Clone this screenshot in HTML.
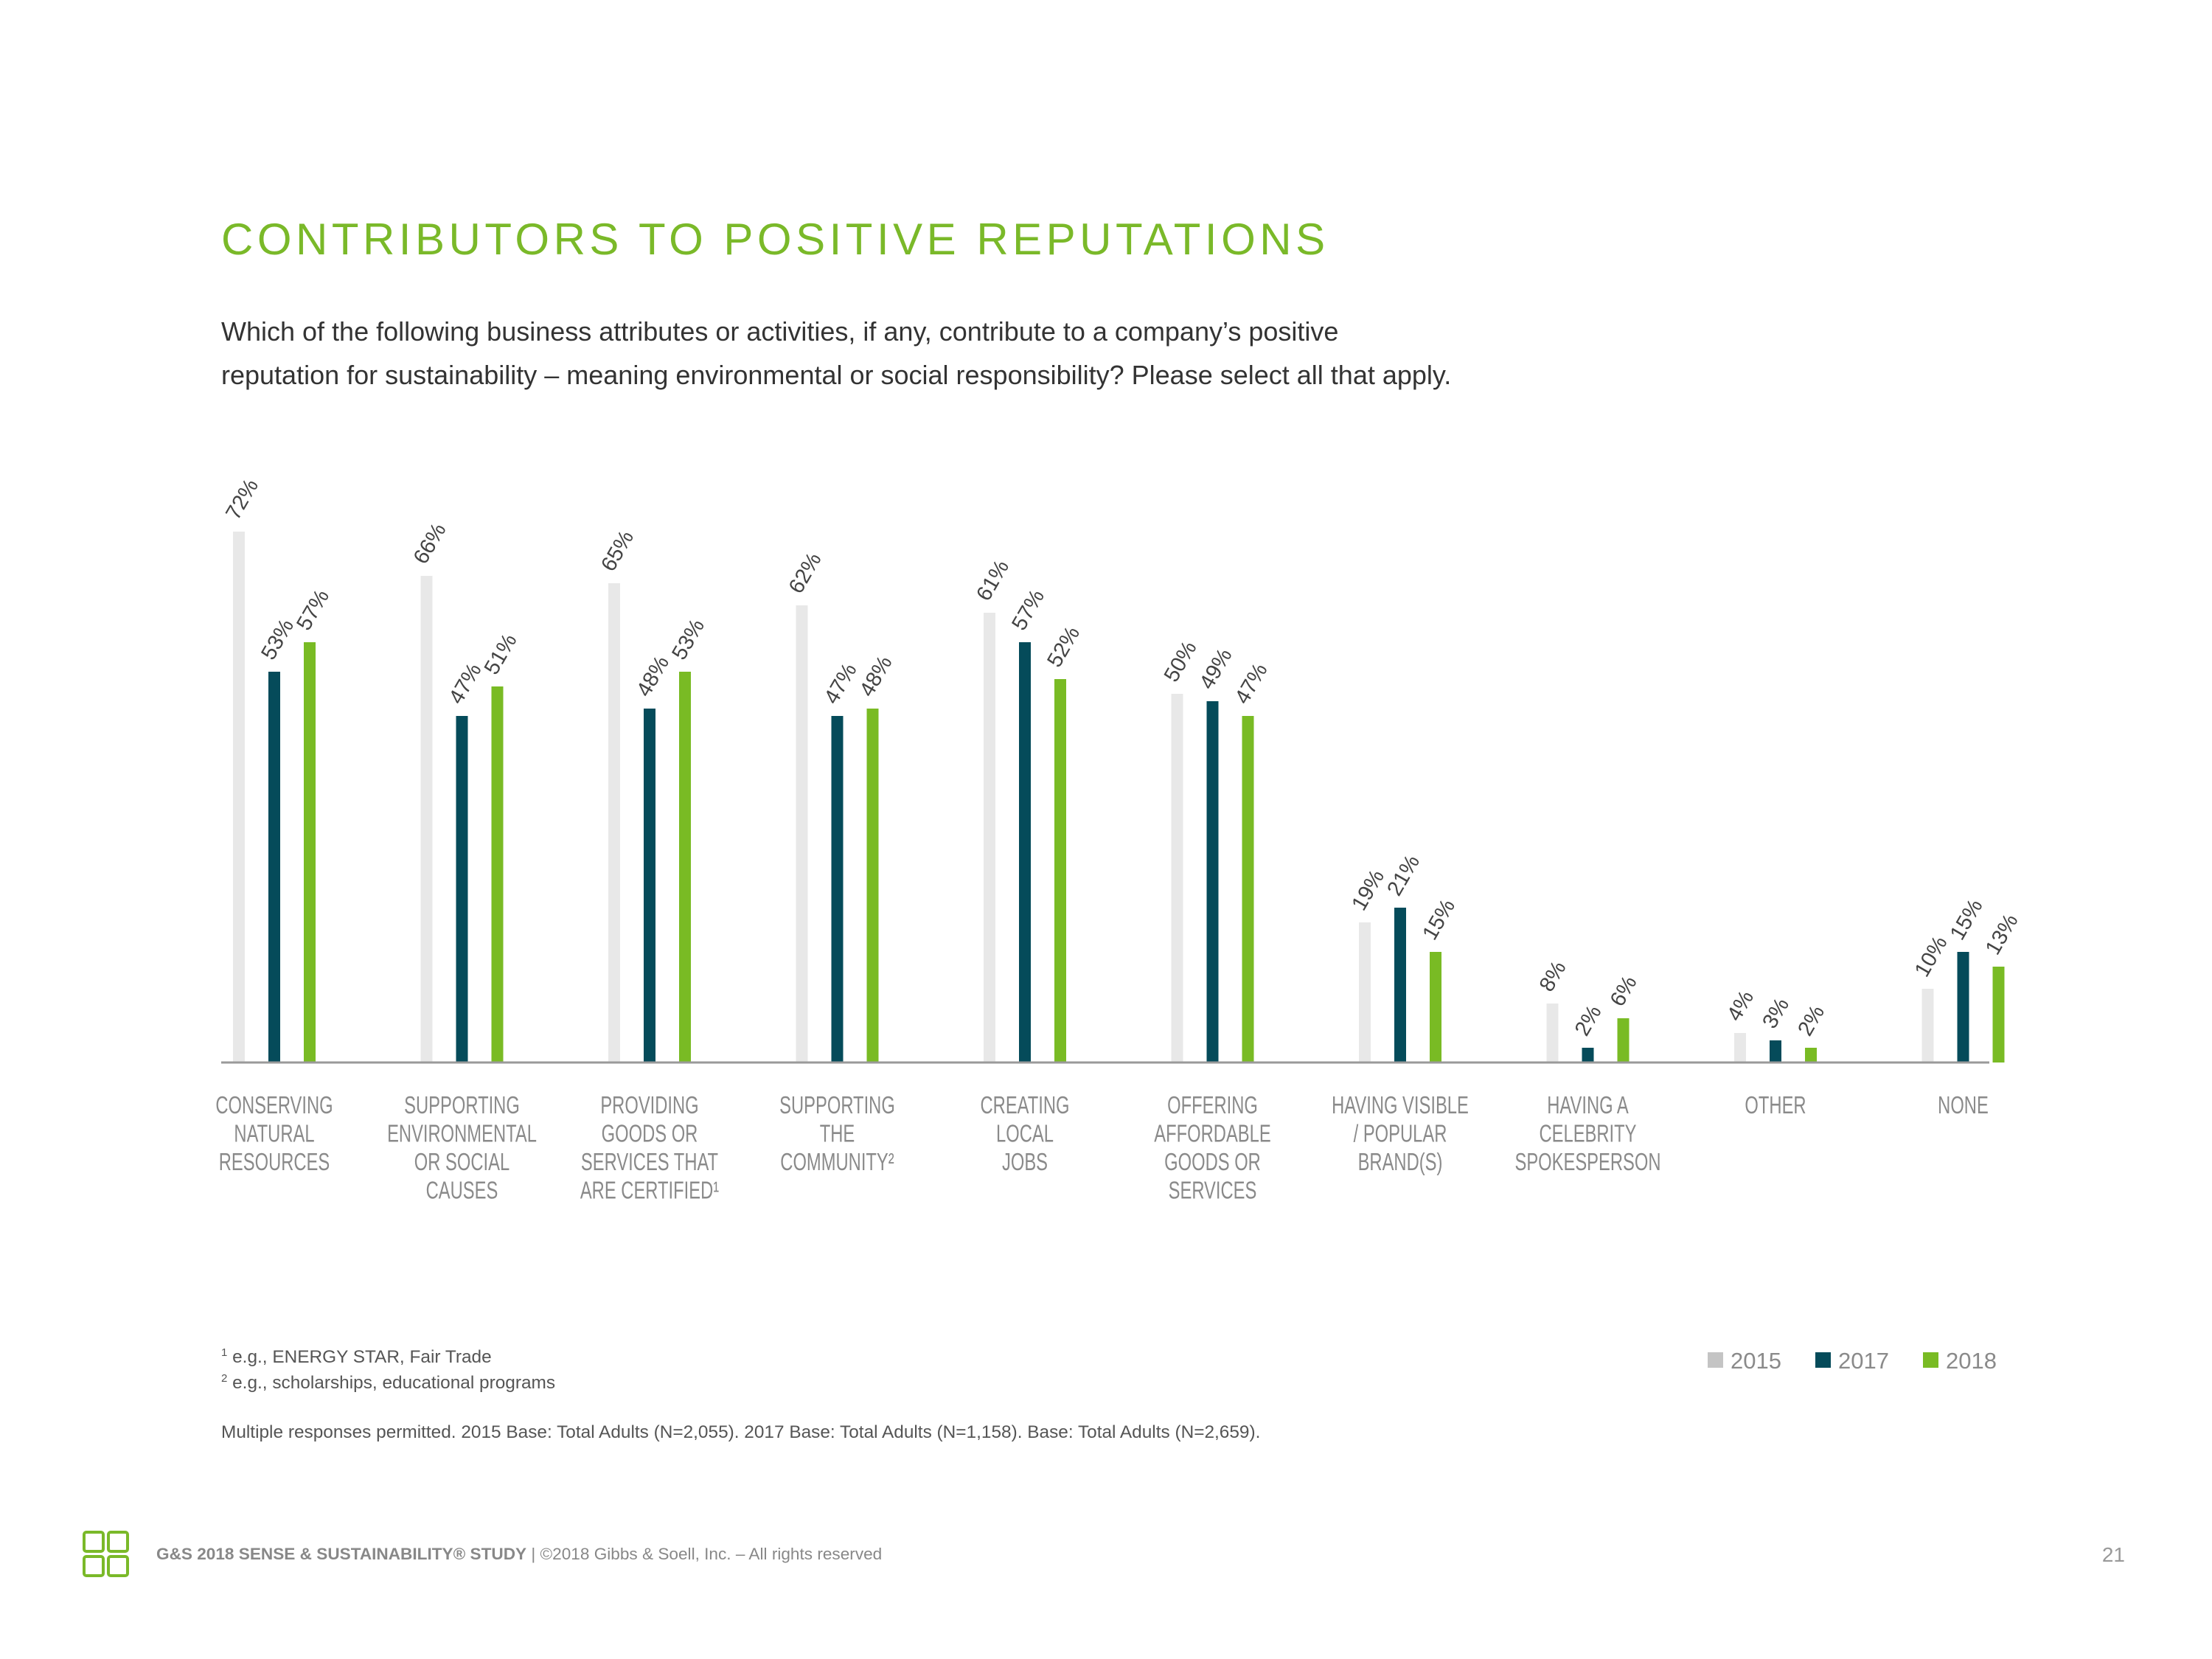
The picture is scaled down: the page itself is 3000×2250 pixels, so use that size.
<!DOCTYPE html>
<html><head><meta charset="utf-8">
<style>
html,body{margin:0;padding:0;background:#fff;}
svg{display:block;font-family:"Liberation Sans",sans-serif;}
.cat{font-family:"Liberation Sans Narrow","Liberation Sans",sans-serif;font-size:33px;fill:#8a8a8a;}
.val{font-family:"Liberation Sans Narrow","Liberation Sans",sans-serif;font-size:29px;fill:#444;}
</style></head>
<body>
<svg id="chart" width="3000" height="2250" viewBox="0 0 3000 2250">
<text x="300" y="345" font-size="60" fill="#7ab929" letter-spacing="5.5">CONTRIBUTORS TO POSITIVE REPUTATIONS</text>
<text x="300" y="462" font-size="36" fill="#333">Which of the following business attributes or activities, if any, contribute to a company’s positive</text>
<text x="300" y="521" font-size="36" fill="#333">reputation for sustainability – meaning environmental or social responsibility? Please select all that apply.</text>
<g id="bars"></g>
<line x1="300" y1="1441" x2="2698" y2="1441" stroke="#9a9a9a" stroke-width="3"/>
<g id="cats"></g>
<g font-size="24.4" fill="#555">
<text x="300" y="1848"><tspan font-size="15" dy="-9">1</tspan><tspan dy="9"> e.g., ENERGY STAR, Fair Trade</tspan></text>
<text x="300" y="1883"><tspan font-size="15" dy="-9">2</tspan><tspan dy="9"> e.g., scholarships, educational programs</tspan></text>
<text x="300" y="1950">Multiple responses permitted. 2015 Base: Total Adults (N=2,055). 2017 Base: Total Adults (N=1,158). Base: Total Adults (N=2,659).</text>
</g>
<g id="legend"></g>
<g fill="none" stroke="#7ab929" stroke-width="4">
<rect x="114" y="2078" width="26" height="26" rx="3"/><rect x="147" y="2078" width="26" height="26" rx="3"/>
<rect x="114" y="2111" width="26" height="26" rx="3"/><rect x="147" y="2111" width="26" height="26" rx="3"/>
</g>
<text x="212" y="2115" font-size="22.6" fill="#888"><tspan font-weight="bold">G&amp;S 2018 SENSE &amp; SUSTAINABILITY® STUDY</tspan> | ©2018 Gibbs &amp; Soell, Inc. – All rights reserved</text>
<text x="2882" y="2118" font-size="28" fill="#999" text-anchor="end">21</text>
</svg>
<script>
const categories=[["CONSERVING","NATURAL","RESOURCES"],["SUPPORTING","ENVIRONMENTAL","OR SOCIAL","CAUSES"],["PROVIDING","GOODS OR","SERVICES THAT","ARE CERTIFIED¹"],["SUPPORTING","THE","COMMUNITY²"],["CREATING","LOCAL","JOBS"],["OFFERING","AFFORDABLE","GOODS OR","SERVICES"],["HAVING VISIBLE","/ POPULAR","BRAND(S)"],["HAVING A","CELEBRITY","SPOKESPERSON"],["OTHER"],["NONE"]];
const values2015=[72,66,65,62,61,50,19,8,4,10];
const values2017=[53,47,48,47,57,49,21,2,3,15];
const values2018=[57,51,53,48,52,47,15,6,2,13];
const seriesNames=["2015","2017","2018"];
const colors=["#e8e8e8","#054b5a","#79bb24"];
const NS="http://www.w3.org/2000/svg";
const base=1441, perPct=10.0, x0=316, step=254.5, off=48, bw=16;
function xScale(i,s){return x0+i*step+s*off;}
function yScale(v){return base-v*perPct;}
const bars=document.getElementById('bars'), cats=document.getElementById('cats');
const series=[values2015,values2017,values2018];
series.forEach((arr,s)=>{arr.forEach((v,i)=>{
  const r=document.createElementNS(NS,'rect');
  
  
  r.setAttribute('x',xScale(i,s));r.setAttribute('y',yScale(v));
  r.setAttribute('width',bw);r.setAttribute('height',base-yScale(v));
  r.setAttribute('fill',colors[s]);bars.appendChild(r);
  const t=document.createElementNS(NS,'text');
  
  
  const lx=xScale(i,s)+6, ly=yScale(v)-14;
  t.setAttribute('x',lx);t.setAttribute('y',ly);t.setAttribute('class','val');
  t.setAttribute('transform','rotate(-60 '+lx+' '+ly+')');
  t.textContent=v+'%';bars.appendChild(t);
});});
categories.forEach((lines,i)=>{
  const cx=xScale(i,1)+bw/2;
  lines.forEach((ln,j)=>{
    const t=document.createElementNS(NS,'text');
    
    
    t.setAttribute('x',cx/0.72);t.setAttribute('y',1510+j*38.5);
    t.setAttribute('transform','scale(0.72,1)');
    t.setAttribute('text-anchor','middle');t.setAttribute('class','cat');
    t.textContent=ln;cats.appendChild(t);
  });
});
const lg=document.getElementById('legend');
seriesNames.forEach((n,s)=>{
  const lx=2316+s*146;
  const r=document.createElementNS(NS,'rect');
  
  
  r.setAttribute('x',lx);r.setAttribute('y',1834);r.setAttribute('width',21);r.setAttribute('height',21);
  r.setAttribute('fill',s===0?'#c4c4c4':colors[s]);lg.appendChild(r);
  const t=document.createElementNS(NS,'text');
  
  
  t.setAttribute('x',lx+31);t.setAttribute('y',1856);t.setAttribute('font-size','31');t.setAttribute('fill','#8a8a8a');
  t.textContent=n;lg.appendChild(t);
});
</script>
</body></html>
